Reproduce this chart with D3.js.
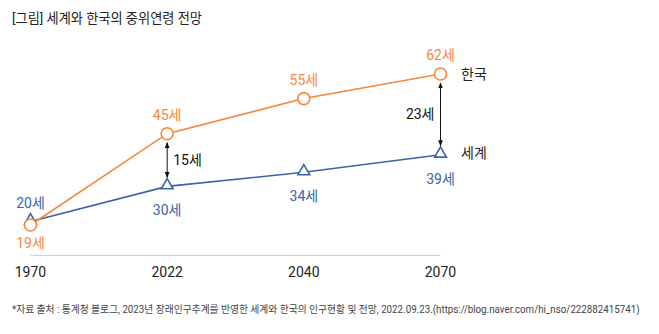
<!DOCTYPE html>
<html>
<head>
<meta charset="utf-8">
<script src="https://cdn.jsdelivr.net/npm/d3@7"></script>
<style>
  body { margin: 0; background: #fff; }
  svg { display: block; font-family: Roboto, "Noto Sans CJK KR", "Noto Sans", sans-serif; }
</style>
</head>
<body>
<div id="chart"></div>
<script>
// Median age outlook, Korea vs. world
const years = ["1970", "2022", "2040", "2070"];
const korea = [19, 45, 55, 62];
const world = [20, 30, 34, 39];
const gaps = [
  { year: "2022", value: 15 },
  { year: "2070", value: 23 }
];

const width = 659, height = 334;
const orange = "#f7883a", blue = "#3b63a8";

const svg = d3.select("#chart").append("svg")
  .attr("width", width)
  .attr("height", height);

const x = d3.scalePoint().domain(years).range([30.5, 440.5]);
const y = d3.scaleLinear().domain([19, 62]).range([225, 74]);

// Title
svg.append("text")
  .attr("x", 12).attr("y", 23)
  .attr("font-size", 13.2).attr("fill", "#222")
  .text("[그림] 세계와 한국의 중위연령 전망");

// Baseline
svg.append("line")
  .attr("x1", x("1970")).attr("x2", x("2070"))
  .attr("y1", 255.5).attr("y2", 255.5)
  .attr("stroke", "#d0d0d0").attr("stroke-width", 1);

// Year labels
svg.selectAll(".year")
  .data(years)
  .join("text")
  .attr("class", "year")
  .attr("x", d => x(d)).attr("y", 277)
  .attr("text-anchor", "middle")
  .attr("font-size", 14).attr("fill", "#222")
  .text(d => d);

const line = d3.line()
  .x((d, i) => x(years[i]))
  .y(d => y(d));

// World series
svg.append("path")
  .datum(world)
  .attr("d", line)
  .attr("fill", "none").attr("stroke", blue).attr("stroke-width", 1.6);

// Korea series
svg.append("path")
  .datum(korea)
  .attr("d", line)
  .attr("fill", "none").attr("stroke", orange).attr("stroke-width", 1.6);

// Triangle markers
const tri = d3.symbol().type(d3.symbolTriangle).size(60);
svg.selectAll(".tri")
  .data(world)
  .join("path")
  .attr("class", "tri")
  .attr("d", tri)
  .attr("transform", (d, i) => `translate(${x(years[i])},${y(d) - 1})`)
  .attr("fill", "#fff").attr("stroke", blue).attr("stroke-width", 1.6);

// Circle markers
svg.selectAll(".dot")
  .data(korea)
  .join("circle")
  .attr("class", "dot")
  .attr("cx", (d, i) => x(years[i]))
  .attr("cy", d => y(d))
  .attr("r", 6)
  .attr("fill", "#fff").attr("stroke", orange).attr("stroke-width", 1.6);

// Value labels: Korea above (except 1970 below), world below (except 1970 above)
svg.selectAll(".klab")
  .data(korea)
  .join("text")
  .attr("class", "klab")
  .attr("x", (d, i) => x(years[i]))
  .attr("y", (d, i) => i === 0 ? y(d) + 23 : y(d) - 14)
  .attr("text-anchor", "middle")
  .attr("font-size", 14).attr("fill", orange)
  .text(d => d + "세");

svg.selectAll(".wlab")
  .data(world)
  .join("text")
  .attr("class", "wlab")
  .attr("x", (d, i) => x(years[i]))
  .attr("y", (d, i) => i === 0 ? y(d) - 13 : y(d) + 29)
  .attr("text-anchor", "middle")
  .attr("font-size", 14).attr("fill", blue)
  .text(d => d + "세");

// Series names
svg.append("text")
  .attr("x", 461).attr("y", y(korea[3]) + 5)
  .attr("font-size", 14).attr("fill", "#222")
  .text("한국");
svg.append("text")
  .attr("x", 461).attr("y", y(world[3]) + 3)
  .attr("font-size", 14).attr("fill", "#222")
  .text("세계");

// Gap arrows
const defs = svg.append("defs");
defs.append("marker")
  .attr("id", "head")
  .attr("viewBox", "0 0 10 10")
  .attr("refX", 9).attr("refY", 5)
  .attr("markerWidth", 6).attr("markerHeight", 6)
  .attr("orient", "auto-start-reverse")
  .append("path")
  .attr("d", "M0,1 L10,5 L0,9 Z")
  .attr("fill", "#111");

gaps.forEach(g => {
  const i = years.indexOf(g.year);
  const top = y(korea[i]) + 9;
  const bottom = y(world[i]) - 9;
  const cx = x(g.year);
  svg.append("line")
    .attr("x1", cx).attr("x2", cx)
    .attr("y1", top).attr("y2", bottom)
    .attr("stroke", "#111").attr("stroke-width", 1)
    .attr("marker-start", "url(#head)")
    .attr("marker-end", "url(#head)");
  const last = i === years.length - 1;
  svg.append("text")
    .attr("x", last ? cx - 6 : cx + 6)
    .attr("y", (top + bottom) / 2 + 5)
    .attr("text-anchor", last ? "end" : "start")
    .attr("font-size", 14).attr("fill", "#111")
    .text(g.value + "세");
});

// Source note, squeezed horizontally so it fits in 629px
const note = svg.append("text")
  .attr("x", 0).attr("y", 0)
  .attr("font-size", 10.5).attr("fill", "#444")
  .text("*자료 출처 : 통계청 블로그, 2023년 장래인구추계를 반영한 세계와 한국의 인구현황 및 전망, 2022.09.23.(https://blog.naver.com/hi_nso/222882415741)");
const noteLen = note.node().getComputedTextLength();
const sx = Math.min(1, 629 / noteLen);
note.attr("transform", `translate(12,313) scale(${sx},1)`);
</script>
</body>
</html>
